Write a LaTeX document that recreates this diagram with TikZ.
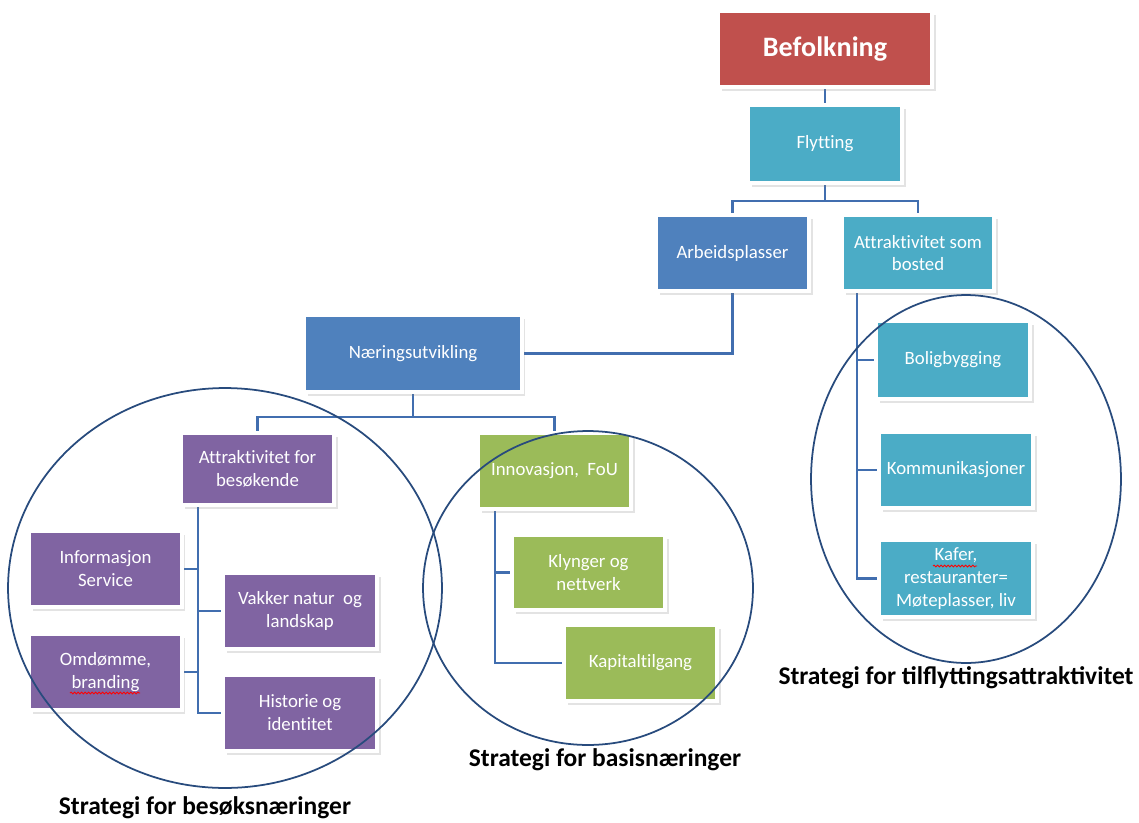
\documentclass[tikz,border=0pt]{standalone}
\usepackage{fontspec}
\setmainfont{Carlito}
\newfontfamily\boxfont{Carlito}[Ligatures=NoCommon]
\usetikzlibrary{shadows,backgrounds,decorations.pathmorphing}
\definecolor{cred}{RGB}{192,80,77}
\definecolor{cblue}{RGB}{79,129,189}
\definecolor{cteal}{RGB}{75,172,198}
\definecolor{cpurple}{RGB}{128,100,162}
\definecolor{cgreen}{RGB}{155,187,89}
\definecolor{cline}{RGB}{65,110,175}
\definecolor{cring}{RGB}{40,75,125}
\tikzset{
  box/.style={draw=white, line width=2.2pt, text=white, align=center, inner sep=0pt,
    font=\boxfont\fontsize{10.7}{13}\selectfont,
    drop shadow={opacity=0.22, shadow xshift=2pt, shadow yshift=-2.4pt}},
  conn/.style={draw=cline, line width=1.3pt},
  ring/.style={draw=cring, line width=1pt},
  caption/.style={font=\bfseries\fontsize{14.5}{17}\selectfont, text=black, inner sep=0pt},
  wavy/.style={draw=red, line width=0.5pt, decorate,
    decoration={snake, amplitude=0.5pt, segment length=2pt}}
}
\newcommand\mybox[7]{\node[box,#6,minimum width={(#4-#2+4)*0.2mm},minimum height={(#5-#3+4)*0.2mm}] (#1) at ({(#2+#4)/2},{(#3+#5)/2}) {#7};}
\begin{document}
\begin{tikzpicture}[x=0.02cm,y=-0.02cm]
\useasboundingbox (0,0) rectangle (1139,822);
% boxes
\mybox{befolk}{720}{13}{930}{85}{fill=cred,font=\boxfont\bfseries\fontsize{16}{19}\selectfont}{Befolkning}
\mybox{flytt}{750}{107}{900}{181}{fill=cteal}{Flytting}
\mybox{arb}{658}{217}{807}{289}{fill=cblue}{Arbeidsplasser}
\mybox{bosted}{844}{217}{992}{289}{fill=cteal}{Attraktivitet som\\bosted}
\mybox{naer}{306}{317}{520}{390}{fill=cblue}{Næringsutvikling}
\mybox{besok}{183}{435}{332}{503}{fill=cpurple}{Attraktivitet for\\besøkende}
\mybox{innov}{480}{435}{629}{507}{fill=cgreen}{Innovasjon,\ \ FoU}
\mybox{info}{31}{533}{180}{605}{fill=cpurple}{Informasjon\\Service}
\mybox{omd}{31}{636}{180}{708}{fill=cpurple}{Omdømme,\\branding}
\mybox{vakker}{225}{575}{375}{647}{fill=cpurple}{Vakker natur\ \ og\\landskap}
\mybox{hist}{225}{677}{375}{749}{fill=cpurple}{Historie og\\identitet}
\mybox{klyng}{514}{537}{663}{608}{fill=cgreen}{Klynger og\\nettverk}
\mybox{kap}{566}{627}{715}{699}{fill=cgreen}{Kapitaltilgang}
\mybox{bolig}{878}{323}{1028}{397}{fill=cteal}{Boligbygging}
\mybox{komm}{881}{434}{1031}{506}{fill=cteal}{Kommunikasjoner}
\mybox{kafer}{881}{542}{1031}{615}{fill=cteal}{Kafer,\\restauranter=\\Møteplasser, liv}
% connectors
\coordinate (j1) at (825,201);
\coordinate (j2) at (413,417);
\coordinate (bv) at (198,0);
\coordinate (iv) at (495,0);
\coordinate (sv) at (857,0);
\begin{scope}[on background layer]
\draw[conn] (befolk.south) -- (flytt.north);
\draw[conn] (flytt.south) -- (j1);
\draw[conn] (arb.north) |- (j1) -| (bosted.north);
\draw[conn] (arb.south) |- (naer.east);
\draw[conn] (naer.south) -- (j2);
\draw[conn] (besok.north) |- (j2) -| (innov.north);
\draw[conn] (bv |- besok.south) -- (bv |- hist.west) -- (hist.west);
\draw[conn] (bv |- info.east) -- (info.east);
\draw[conn] (bv |- vakker.west) -- (vakker.west);
\draw[conn] (bv |- omd.east) -- (omd.east);
\draw[conn] (iv |- innov.south) -- (iv |- kap.west) -- (kap.west);
\draw[conn] (iv |- klyng.west) -- (klyng.west);
\draw[conn] (sv |- bosted.south) -- (sv |- kafer.west) -- (kafer.west);
\draw[conn] (sv |- bolig.west) -- (bolig.west);
\draw[conn] (sv |- komm.west) -- (komm.west);
\end{scope}
% spell-check marks
\draw[wavy] (70,693) -- (140,693);
\draw[wavy] (933,566) -- (977,566);
% rings
\draw[ring] (225,588) ellipse [x radius=4.34cm, y radius=4.0cm];
\draw[ring] (588,588) ellipse [x radius=3.3cm, y radius=3.14cm];
\draw[ring] (966,479) ellipse [x radius=3.1cm, y radius=3.68cm];
% captions
\node[caption] (c1) at (205,808) {Strategi for besøksnæringer};
\node[caption] (c2) at (605,760) {Strategi for basisnæringer};
\node[caption] (c3) at (956,678) {Strategi for tilflyttingsattraktivitet};
\end{tikzpicture}
\end{document}
